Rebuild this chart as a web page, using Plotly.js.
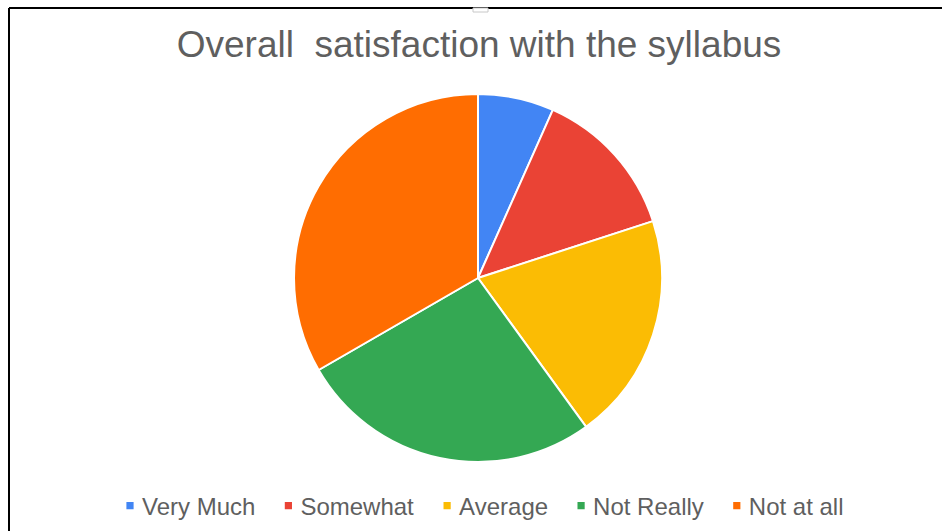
<!DOCTYPE html>
<html>
<head>
<meta charset="utf-8">
<script src="https://cdn.plot.ly/plotly-3.0.1.min.js"></script>
<style>html,body{margin:0;padding:0;background:#fff;}#chart{width:942px;height:531px;}</style>
</head>
<body>
<div id="chart"></div>
<script>
const categories = ["Very Much", "Somewhat", "Average", "Not Really", "Not at all"];
const values = [1, 2, 3, 4, 5];
const colors = ["#4285F4", "#EA4335", "#FBBC04", "#34A853", "#FF6D01"];
const titleText = "Overall&nbsp; satisfaction with the syllabus";

const W = 942, H = 531;
const cx = 478, cy = 278, r = 184;

const trace = {
  type: "pie",
  labels: categories,
  values: values,
  sort: false,
  direction: "clockwise",
  rotation: 0,
  textinfo: "none",
  hoverinfo: "label+percent",
  marker: {colors: colors, line: {color: "#ffffff", width: 2}},
  domain: {x: [(2*cx - W)/W, 1], y: [(H - cy - r)/H, (H - cy + r)/H]}
};

const layout = {
  width: W, height: H,
  margin: {l: 0, r: 0, t: 0, b: 0},
  paper_bgcolor: "#ffffff",
  font: {family: "Liberation Sans, Arial, sans-serif", color: "#5f5f5f"},
  title: {
    text: titleText,
    font: {size: 37, color: "#5f5f5f", family: "Liberation Sans, Arial, sans-serif"},
    x: 479/W, xanchor: "center", xref: "paper",
    y: 1 - 44/H, yanchor: "middle", yref: "container"
  },
  showlegend: true,
  legend: {
    orientation: "h",
    x: 0.5 + 4.5/W, xanchor: "center",
    y: (H - 506)/H, yanchor: "middle",
    font: {size: 24, color: "#5f5f5f"},
    traceorder: "normal"
  },
  shapes: [
    {type: "line", xref: "paper", yref: "paper", x0: 9/W, x1: 1.02, y0: 1 - 8/H, y1: 1 - 8/H, line: {color: "#000", width: 2}},
    {type: "line", xref: "paper", yref: "paper", x0: 9/W, x1: 9/W, y0: -0.02, y1: 1 - 8/H, line: {color: "#000", width: 2}},
    {type: "rect", xref: "paper", yref: "paper", x0: 473/W, x1: 488/W, y0: 1 - 12/H, y1: 1 - 8/H, line: {color: "#c8c8c8", width: 1}, fillcolor: "#ffffff"}
  ]
};

Plotly.newPlot("chart", [trace], layout, {staticPlot: true}).then(function(gd){
  gd.querySelectorAll(".legend .legendpoints path").forEach(function(p){
    p.setAttribute("transform", "translate(28,0) scale(0.6)");
    p.style.strokeWidth = "0";
  });
});
</script>
</body>
</html>
